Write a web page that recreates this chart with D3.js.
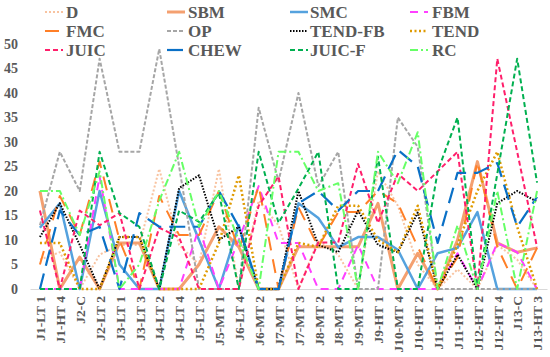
<!DOCTYPE html>
<html>
<head>
<meta charset="utf-8">
<script src="https://cdn.jsdelivr.net/npm/d3@7"></script>
<style>
  body { margin: 0; background: #fff; }
</style>
</head>
<body>
<svg width="550" height="357"></svg>
<script>
var categories = ["J1-LT 1","J1-HT 4","J2-C","J2-LT 2","J3-LT 1","J3-LT 3","J4-LT 2","J4-LT 4","J5-LT 3","J5-MT 1","J6-LT 4","J6-MT 2","J7-MT 1","J7-MT 3","J8-MT 2","J8-MT 4","J9-MT 3","J9-HT 1","J10-MT 4","J10-HT 2","J11-HT 1","J11-HT 3","J12-HT 2","J12-HT 4","J13-C","J13-HT 3"];
var yTicks = [0,5,10,15,20,25,30,35,40,45,50];

var D      = [6,7.5,0,7,9,9,24.5,9,5,24.5,0,18,13,0,10,7,0,24,17,5,0,4,0,9,6,0];
var SBM    = [20,0,6.5,0,9.4,9.4,0,0,5,12.7,8.6,0,0,8.6,8.6,8.6,8.6,17.5,0,7.3,0,10,26,9.4,7.5,8.4];
var SMC    = [12.5,17.5,0,20,5,0,0,20,10,0,13,0,0,17.5,14.5,8.5,10.6,10.6,8,0,7.3,8.4,15.7,0,0,0];
var FBM    = [0,0,0,23,0,0,0,0,12.5,0,10,21,9.4,9.4,0,0,9,0,0,0,0,7.3,0,9.4,7.5,0];
var FMC    = [5,19,11,26,10,0,19,11,11,20,8,21,0,16.7,8.6,15.7,15.7,20,17.5,8.6,0,6.5,26,8.6,0,8.4];
var OP     = [13,28,20,47,28,28,49,25,0,0,0,37,22,40,21,28,0,0,35,29,0,0,0,0,0,0];
var TEND_FB= [10.6,17.5,9,0,10.6,10.6,0,20.6,23.2,10,12.7,0,0,20,9,7.5,16,9,7.5,15.6,0,7,0,17.5,20,17.8];
var TEND   = [9.4,9.4,0,0,10.6,10.6,0,0,0,9.4,23.2,0,0,9.4,8.6,17,17,10,7.5,17,0,9,20,28,12.7,0];
var JUIC   = [16,0,16,13,15.5,0,12.5,10.5,0,0,0,17,23,0,9.5,9.5,25.5,13.5,23.5,20,24,28,0,47,28,8.5];
var CHEW   = [0,16,11,12.7,0,15.5,12.7,12.7,12.7,20,12.7,0,0,17.5,20,16,20,20,28.4,25,9.4,23.7,23.7,25.7,12.7,18.8];
var JUIC_F = [0,0,0,28,15.5,12.7,0,16,13.7,19.6,0,28,13.5,20.5,28,0,0,27,0,0,24,35,0,23.5,47,21.7];
var RC     = [20,20,11,24,0,5,18,28,12.7,20,10,0,28,28,20,21.6,0,28,21.6,32,0,13,0,20,0,20];

var FONT = "'Liberation Serif', 'Times New Roman', Times, serif";

// name, values, colour, width, dash
var series = [
  {name:"D", values:D, color:"#F8C3A0", w:2, dash:"2,2"},
  {name:"SBM", values:SBM, color:"#F4A070", w:3, dash:null},
  {name:"SMC", values:SMC, color:"#55A2DE", w:2.5, dash:null},
  {name:"FBM", values:FBM, color:"#FF40FF", w:2, dash:"8,6"},
  {name:"FMC", values:FMC, color:"#FF7F27", w:2, dash:"14,9"},
  {name:"OP", values:OP, color:"#A6A6A6", w:2, dash:"4,2"},
  {name:"TEND-FB", values:TEND_FB, color:"#000000", w:2, dash:"1.5,1.5"},
  {name:"TEND", values:TEND, color:"#DF9A00", w:2.5, dash:"2,2.5"},
  {name:"JUIC", values:JUIC, color:"#FF1F6B", w:2, dash:"5,3"},
  {name:"CHEW", values:CHEW, color:"#0A70C6", w:2.2, dash:"16,8"},
  {name:"JUIC-F", values:JUIC_F, color:"#00B050", w:2, dash:"5,3"},
  {name:"RC", values:RC, color:"#66FF66", w:2, dash:"8,3,2,3"}
];

var svg = d3.select("svg");

var x = d3.scalePoint()
    .domain(categories)
    .range([30, 547])
    .padding(0.5);
var y = d3.scaleLinear()
    .domain([0, 50])
    .range([289, 44]);

// y axis labels only
var yAxis = svg.append("g")
    .attr("transform", "translate(30,0)")
    .call(d3.axisLeft(y).tickValues(yTicks).tickSize(0).tickPadding(12));
yAxis.select(".domain").remove();
yAxis.selectAll("text")
    .style("font-family", FONT)
    .style("font-weight", "bold")
    .style("font-size", "14px")
    .attr("fill", "#595959");

// x axis, rotated labels
var xAxis = svg.append("g")
    .attr("transform", "translate(0,289)")
    .call(d3.axisBottom(x).tickSize(0));
xAxis.select(".domain").attr("stroke", "#D9D9D9").attr("stroke-width", 1);
xAxis.selectAll("text")
    .style("font-family", FONT)
    .style("font-weight", "bold")
    .style("font-size", "13.5px")
    .attr("fill", "#595959")
    .attr("transform", "rotate(-90)")
    .attr("text-anchor", "end")
    .attr("x", -7)
    .attr("y", 0)
    .attr("dy", "0.35em");

var line = d3.line()
    .x((d, i) => x(categories[i]))
    .y(d => y(d));

svg.append("g").selectAll("path")
  .data(series)
  .enter()
  .append("path")
    .attr("fill", "none")
    .attr("stroke", d => d.color)
    .attr("stroke-width", d => d.w)
    .attr("stroke-dasharray", d => d.dash)
    .attr("stroke-linejoin", "round")
    .attr("d", d => line(d.values));

// legend, 4 columns x 3 rows
var legX = [45, 167, 290, 410];
var legTextX = [66, 188, 310, 432];
var legY = [12, 31, 50];
var leg = svg.append("g").selectAll("g")
  .data(series)
  .enter()
  .append("g")
    .attr("transform", (d, i) => "translate(0," + legY[Math.floor(i / 4)] + ")");
leg.append("line")
    .attr("x1", (d, i) => legX[i % 4])
    .attr("x2", (d, i) => legX[i % 4] + 18)
    .attr("y1", 0).attr("y2", 0)
    .attr("stroke", d => d.color)
    .attr("stroke-width", d => d.w)
    .attr("stroke-dasharray", d => d.dash);
leg.append("text")
    .attr("x", (d, i) => legTextX[i % 4])
    .attr("y", 0)
    .attr("dy", "0.35em")
    .style("font-family", FONT)
    .style("font-weight", "bold")
    .style("font-size", "17px")
    .attr("fill", "#595959")
    .text(d => d.name);
</script>
</body>
</html>
